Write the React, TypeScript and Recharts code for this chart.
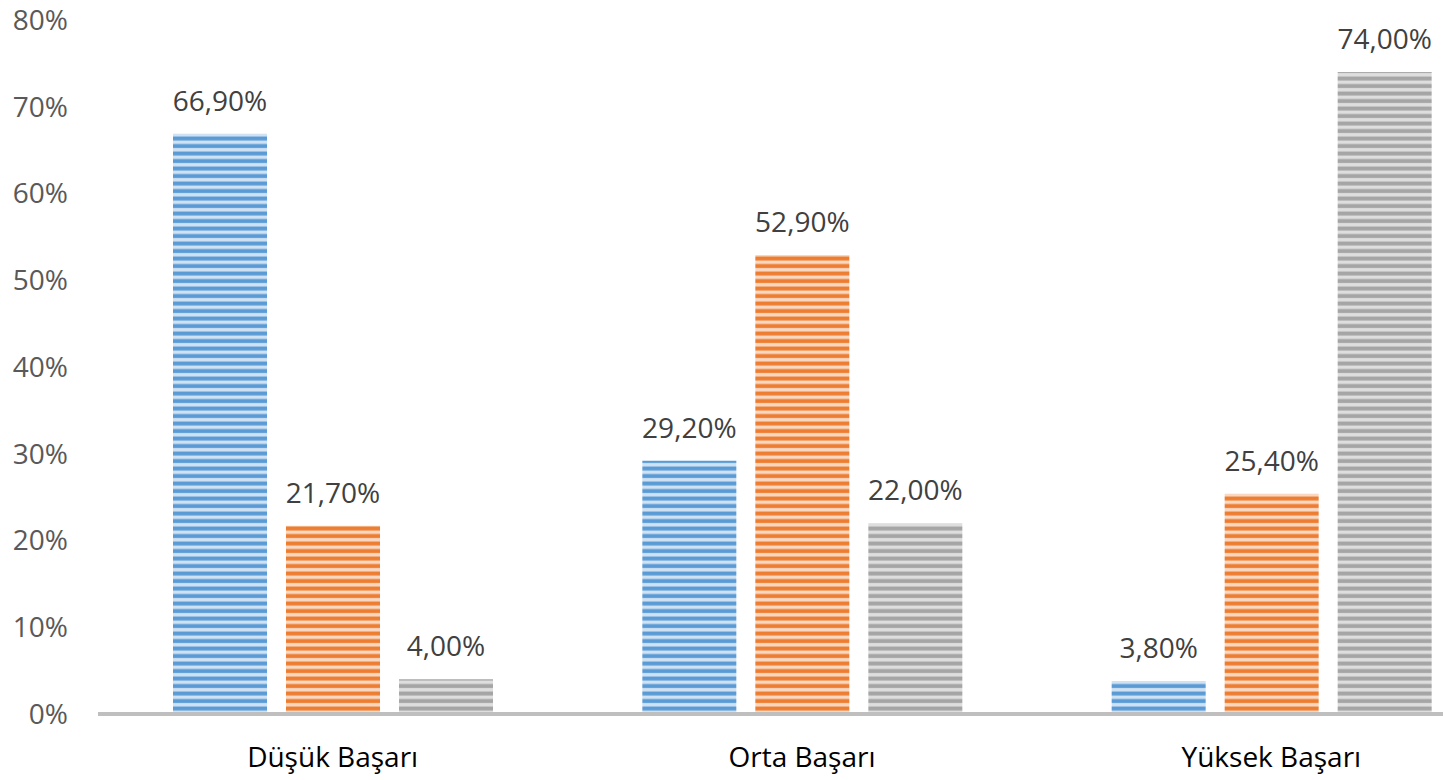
import React from 'react';
import { BarChart, Bar, XAxis, YAxis, LabelList } from 'recharts';

const categories = ['Düşük Başarı', 'Orta Başarı', 'Yüksek Başarı'];
const seriesA = [66.9, 29.2, 3.8];
const seriesB = [21.7, 52.9, 25.4];
const seriesC = [4.0, 22.0, 74.0];
const yTicks = [0, 10, 20, 30, 40, 50, 60, 70, 80];

const data = categories.map((name, i) => ({ name, a: seriesA[i], b: seriesB[i], c: seriesC[i] }));

const FONT = '"Open Sans", sans-serif';
const fmt = (v: any) => Number(v).toFixed(2).replace('.', ',') + '%';

const Stripe = ({ id, dark, light }: { id: string; dark: string; light: string }) => (
  <pattern id={id} patternUnits="userSpaceOnUse" x="0" y="0" width="10" height="7.5">
    <rect x="0" y="0" width="10" height="7.5" fill={light} />
    <rect x="0" y="1.5" width="10" height="4" fill={dark} />
  </pattern>
);

export default function App() {
  return (
    <div style={{ position: 'fixed', left: 0, top: 0, width: 1443, height: 780, overflow: 'hidden', background: '#fff' }}>
      <BarChart width={1506} height={780} data={data} margin={{ top: 20, right: 0, left: 0, bottom: 0 }} barSize={94} barGap={19}>
        <defs>
          <Stripe id="pA" dark="#5B9BD5" light="#CFE2F3" />
          <Stripe id="pB" dark="#ED7D31" light="#F9D7C1" />
          <Stripe id="pC" dark="#A5A5A5" light="#DEDEDE" />
        </defs>
        <XAxis
          dataKey="name"
          height={66}
          tickSize={0}
          tickMargin={33}
          axisLine={{ stroke: '#BFBFBF', strokeWidth: 4 }}
          tickLine={false}
          tick={{ fill: '#000000', fontSize: 28, fontFamily: FONT }}
        />
        <YAxis
          width={98}
          domain={[0, 80]}
          ticks={yTicks}
          tickFormatter={(v: number) => `${v}%`}
          axisLine={false}
          tickLine={false}
          tickSize={0}
          tickMargin={30}
          tick={{ fill: '#595959', fontSize: 28, fontFamily: FONT }}
        />
        <Bar dataKey="a" fill="url(#pA)" isAnimationActive={false}>
          <LabelList dataKey="a" position="top" offset={23} formatter={fmt} fill="#404040" fontSize={28} fontFamily={FONT} />
        </Bar>
        <Bar dataKey="b" fill="url(#pB)" isAnimationActive={false}>
          <LabelList dataKey="b" position="top" offset={23} formatter={fmt} fill="#404040" fontSize={28} fontFamily={FONT} />
        </Bar>
        <Bar dataKey="c" fill="url(#pC)" isAnimationActive={false}>
          <LabelList dataKey="c" position="top" offset={23} formatter={fmt} fill="#404040" fontSize={28} fontFamily={FONT} />
        </Bar>
      </BarChart>
    </div>
  );
}
